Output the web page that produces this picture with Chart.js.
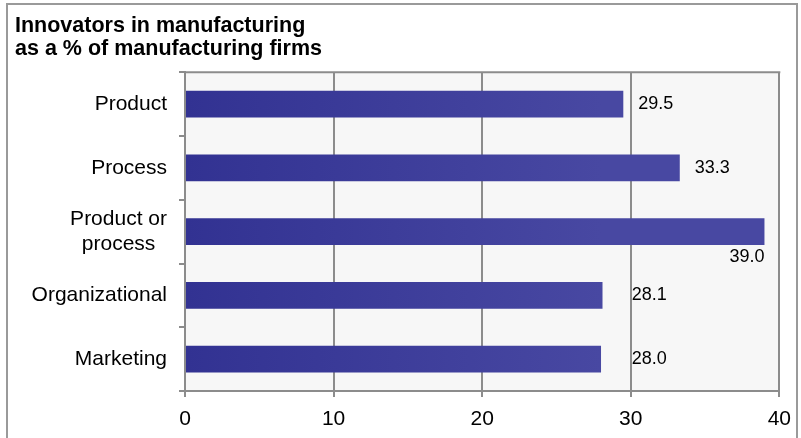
<!DOCTYPE html>
<html>
<head>
<meta charset="utf-8">
<script src="https://cdn.jsdelivr.net/npm/chart.js@4/dist/chart.umd.min.js"></script>
<style>
  html, body { margin: 0; padding: 0; background: #ffffff; }
  #wrap { width: 801px; height: 438px; }
</style>
</head>
<body>
<div id="wrap"><canvas id="c" width="801" height="438"></canvas></div>
<script>
const titleLines = ["Innovators in manufacturing", "as a % of manufacturing firms"];
const categories = [["Product"], ["Process"], ["Product or", "process"], ["Organizational"], ["Marketing"]];
const values = [29.5, 33.3, 39.0, 28.1, 28.0];
const xTicks = [0, 10, 20, 30, 40];

const FONT = "'Liberation Sans', Arial, Helvetica, sans-serif";
const GRID = '#8c8c8c';

const framePlugin = {
  id: 'frame',
  beforeDraw(chart) {
    const { ctx, chartArea: a } = chart;
    ctx.save();
    ctx.fillStyle = '#f7f7f7';
    ctx.fillRect(a.left, a.top, a.right - a.left, a.bottom - a.top);
    ctx.strokeStyle = '#9a9a9a';
    ctx.lineWidth = 2;
    ctx.strokeRect(7, 4, 790, 440);
    ctx.restore();
  },
  afterDraw(chart) {
    const { ctx, chartArea: a } = chart;
    ctx.save();
    ctx.strokeStyle = GRID;
    ctx.lineWidth = 2;
    ctx.beginPath();
    ctx.moveTo(a.left, a.top);
    ctx.lineTo(a.right + 1, a.top);
    ctx.stroke();
    ctx.restore();
  }
};

const gradientPlugin = {
  id: 'barGradient',
  beforeDatasetsDraw(chart) {
    const ctx = chart.ctx;
    chart.getDatasetMeta(0).data.forEach(el => {
      const g = ctx.createLinearGradient(el.base, 0, el.x, 0);
      g.addColorStop(0, '#323292');
      g.addColorStop(1, '#4848a2');
      el.options.backgroundColor = g;
    });
  }
};

const labelPlugin = {
  id: 'valueLabels',
  afterDatasetsDraw(chart) {
    const { ctx, chartArea: a } = chart;
    const xs = chart.scales.x;
    ctx.save();
    ctx.font = '18px ' + FONT;
    ctx.fillStyle = '#000';
    ctx.textBaseline = 'middle';
    chart.getDatasetMeta(0).data.forEach((el, i) => {
      const txt = values[i].toFixed(1);
      const w = ctx.measureText(txt).width;
      let x = el.x + 15;
      if (x + w > a.right) {
        ctx.textAlign = 'right';
        ctx.fillText(txt, el.x, el.y + el.height / 2 + 12);
        return;
      }
      xTicks.forEach(t => {
        const gx = xs.getPixelForValue(t);
        if (gx > x - 2 && gx < x + w) x = gx + 1;
      });
      ctx.textAlign = 'left';
      ctx.fillText(txt, x, el.y);
    });
    ctx.restore();
  }
};

function centeredLines(lines) {
  if (lines.length < 2) return lines[0];
  const c = document.createElement('canvas').getContext('2d');
  c.font = '21px ' + FONT;
  const widths = lines.map(l => c.measureText(l).width);
  const max = Math.max(...widths);
  const sp = c.measureText(' ').width;
  return lines.map((l, i) => l + ' '.repeat(Math.round((max - widths[i]) / 2 / sp)));
}

new Chart(document.getElementById('c'), {
  type: 'bar',
  data: {
    labels: categories,
    datasets: [{
      data: values,
      backgroundColor: '#3a3a98',
      borderWidth: 0,
      barPercentage: 0.42,
      categoryPercentage: 1
    }]
  },
  options: {
    indexAxis: 'y',
    responsive: false,
    animation: false,
    layout: { padding: { left: 15, right: 21, top: 0, bottom: 0 } },
    plugins: {
      legend: { display: false },
      tooltip: { enabled: false },
      title: {
        display: true,
        text: titleLines,
        align: 'start',
        color: '#000',
        font: { family: FONT, size: 21.5, weight: 'bold', lineHeight: 1.1 },
        padding: { top: 14, bottom: 11 }
      }
    },
    scales: {
      x: {
        min: 0, max: 40,
        afterBuildTicks(scale) { scale.ticks = xTicks.map(v => ({ value: v })); },
        afterFit(scale) { scale.height = 47; },
        grid: { color: GRID, lineWidth: 2, drawTicks: true, tickLength: 6, tickColor: GRID },
        border: { display: true, color: GRID, width: 2 },
        ticks: { color: '#000', padding: 10, font: { family: FONT, size: 21 } }
      },
      y: {
        afterFit(scale) { scale.width = 170; },
        grid: { offset: true, drawOnChartArea: false, drawTicks: true, tickLength: 6, color: GRID, lineWidth: 2 },
        border: { display: true, color: GRID, width: 2 },
        ticks: {
          color: '#000',
          padding: 12,
          font: { family: FONT, size: 21, lineHeight: 1.15 },
          callback(v, i) { return centeredLines(categories[i]); }
        }
      }
    }
  },
  plugins: [framePlugin, gradientPlugin, labelPlugin]
});
</script>
</body>
</html>
